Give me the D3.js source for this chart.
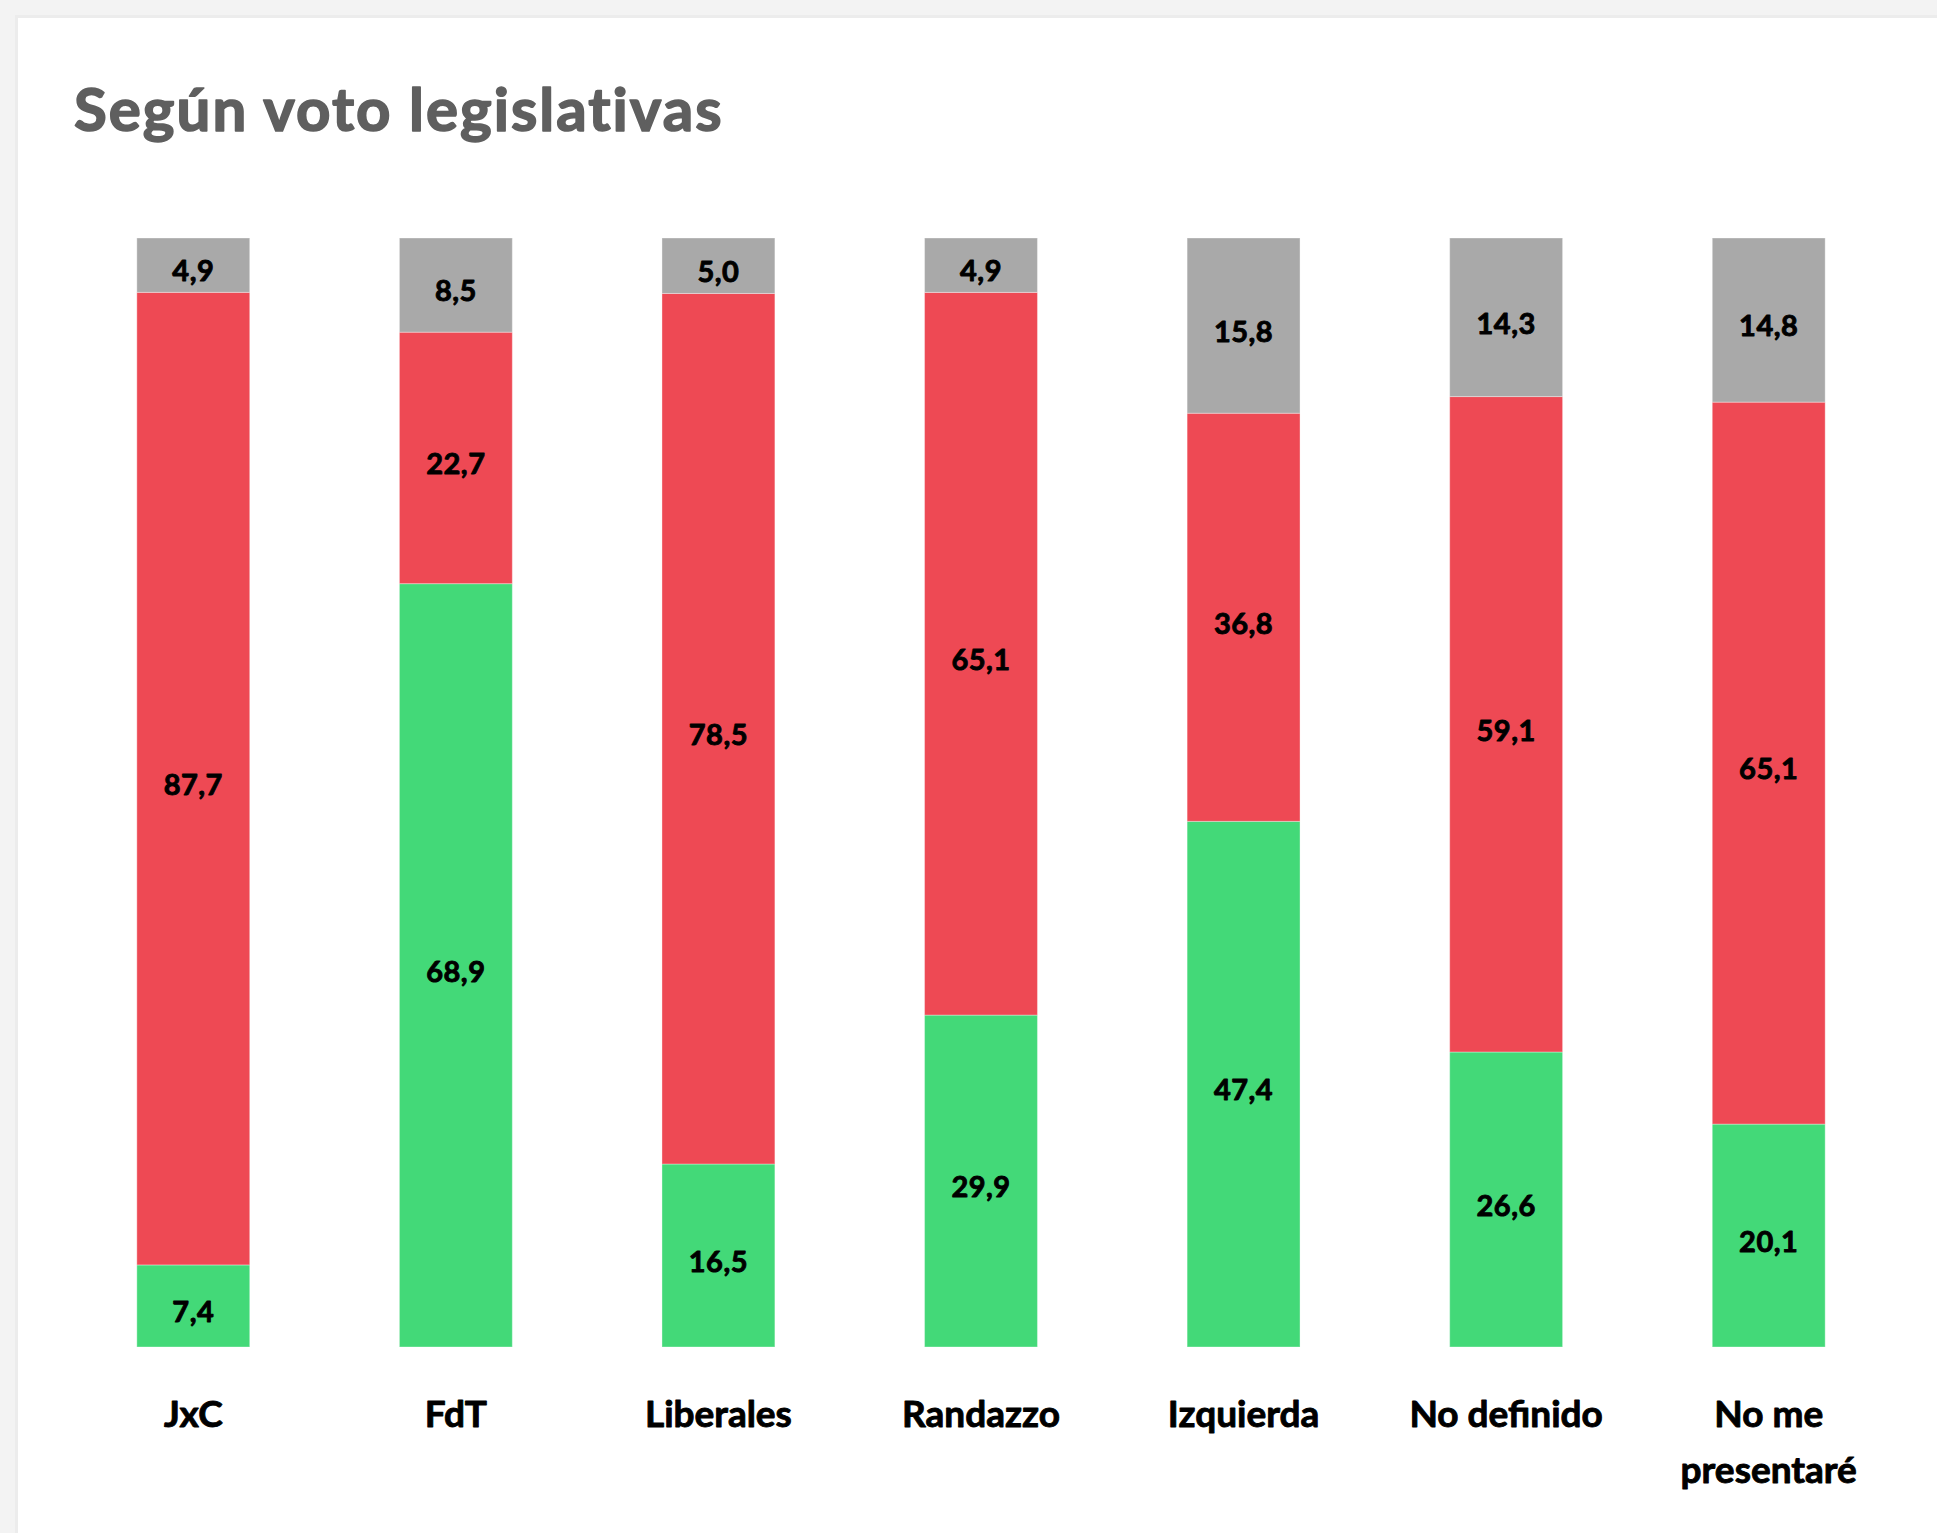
<!DOCTYPE html>
<html>
<head>
<meta charset="utf-8">
<script src="https://cdn.jsdelivr.net/npm/d3@7"></script>
<style>
  html, body { margin: 0; padding: 0; background: #f3f3f3; }
  svg { display: block; }
</style>
</head>
<body>
<svg id="chart" width="1937" height="1533"></svg>
<script>
const title = "Según voto legislativas";
const categories = ["JxC", "FdT", "Liberales", "Randazzo", "Izquierda", "No definido", "No me presentaré"];
const categoryLines = [["JxC"], ["FdT"], ["Liberales"], ["Randazzo"], ["Izquierda"], ["No definido"], ["No me", "presentaré"]];
const seriesKeys = ["verde", "rojo", "gris"];
const verde = [7.4, 68.9, 16.5, 29.9, 47.4, 26.6, 20.1];
const rojo  = [87.7, 22.7, 78.5, 65.1, 36.8, 59.1, 65.1];
const gris  = [4.9, 8.5, 5.0, 4.9, 15.8, 14.3, 14.8];
const colors = ["#43d978", "#ee4954", "#a9a9a9"];

const rows = categories.map((c, i) => ({ cat: c, verde: verde[i], rojo: rojo[i], gris: gris[i] }));

const svg = d3.select("#chart");
const W = 1937, H = 1533;
const FONT = "Lato, 'Noto Sans', sans-serif";

// panel
svg.append("rect").attr("x", 0).attr("y", 0).attr("width", W).attr("height", H).attr("fill", "#f3f3f3");
svg.append("rect").attr("x", 15).attr("y", 15).attr("width", W - 15).attr("height", H - 15).attr("fill", "#ececec");
svg.append("rect").attr("x", 18).attr("y", 18).attr("width", W - 18).attr("height", H - 18).attr("fill", "#ffffff");

svg.append("text")
  .attr("x", 74).attr("y", 131)
  .attr("font-family", FONT)
  .attr("font-weight", 700)
  .attr("font-size", 60)
  .attr("letter-spacing", 2)
  .attr("fill", "#5f5f5f")
  .attr("stroke", "#5f5f5f")
  .attr("stroke-width", 1.6)
  .attr("stroke-linejoin", "round")
  .text(title);

const x = d3.scaleBand().domain(categories).range([62, 1900]).paddingInner(0.57).paddingOuter(0.285);
const y = d3.scaleLinear().domain([0, 1]).range([1347, 238]);

const stack = d3.stack().keys(seriesKeys).offset(d3.stackOffsetExpand);
const series = stack(rows);

const g = svg.append("g");
series.forEach((s, si) => {
  g.selectAll(null).data(s).enter().append("rect")
    .attr("x", d => x(d.data.cat))
    .attr("width", x.bandwidth())
    .attr("y", d => y(d[1]))
    .attr("height", d => y(d[0]) - y(d[1]))
    .attr("fill", colors[si])
    .attr("stroke", "rgba(255,255,255,0.35)")
    .attr("stroke-width", 1);
  g.selectAll(null).data(s).enter().append("text")
    .attr("x", d => x(d.data.cat) + x.bandwidth() / 2)
    .attr("y", d => (y(d[0]) + y(d[1])) / 2)
    .attr("dy", "0.56em")
    .attr("text-anchor", "middle")
    .attr("font-family", FONT)
    .attr("font-weight", 700)
    .attr("font-size", 29)
    .attr("letter-spacing", 0.5)
    .attr("fill", "#000")
    .attr("stroke", "#000")
    .attr("stroke-width", 0.9)
    .attr("stroke-linejoin", "round")
    .text(d => d3.format(".1f")(d.data[seriesKeys[si]]).replace(".", ","));
});

// category labels
const lab = svg.append("g");
categories.forEach((c, i) => {
  const t = lab.append("text")
    .attr("x", x(c) + x.bandwidth() / 2)
    .attr("y", 1427)
    .attr("text-anchor", "middle")
    .attr("font-family", FONT)
    .attr("font-weight", 700)
    .attr("font-size", 37)
    .attr("fill", "#000")
    .attr("stroke", "#000")
    .attr("stroke-width", 0.9)
    .attr("stroke-linejoin", "round");
  categoryLines[i].forEach((ln, li) => {
    t.append("tspan").attr("x", x(c) + x.bandwidth() / 2).attr("dy", li === 0 ? 0 : 56).text(ln);
  });
});
</script>
</body>
</html>
